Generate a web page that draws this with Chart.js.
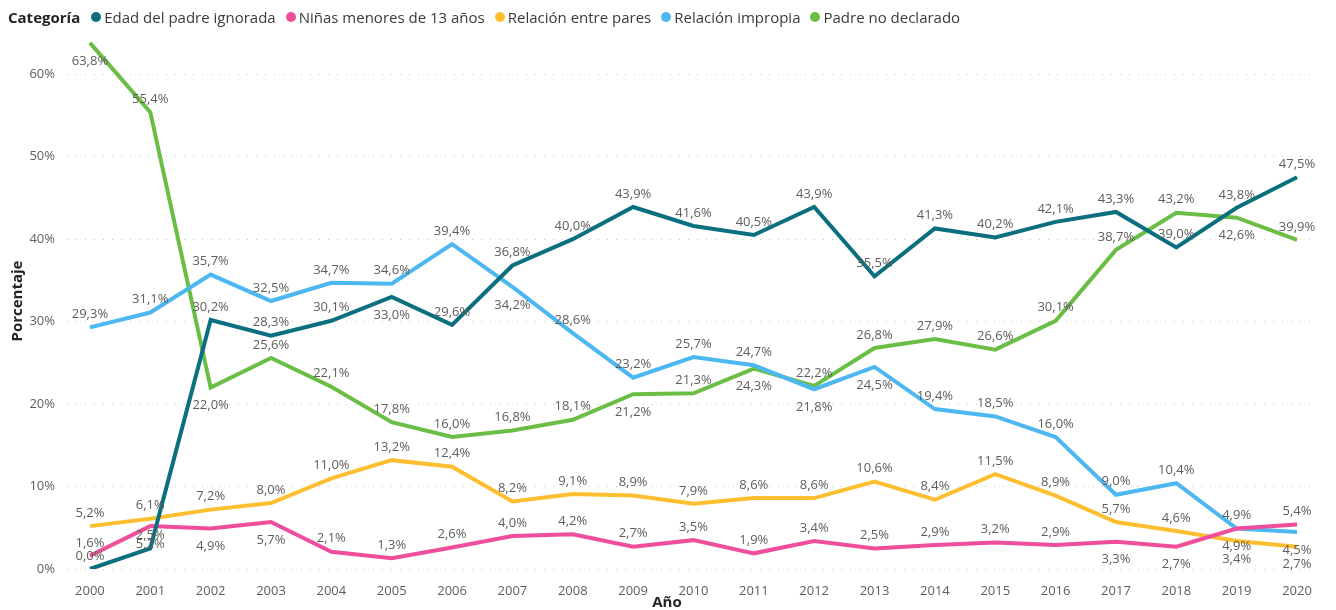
<!DOCTYPE html>
<html>
<head>
<meta charset="utf-8">
<script src="https://cdn.jsdelivr.net/npm/chart.js@4.4.1/dist/chart.umd.min.js"></script>
<style>
  body { margin: 0; background: #fff; font-family: "Segoe UI", "Open Sans", sans-serif; }
  #wrap { position: relative; width: 1336px; height: 610px; }
  #legend { position: absolute; left: 8px; top: 5px; height: 24px; display: flex; align-items: center;
            font-size: 15px; color: #3b3a39; white-space: nowrap; }
  #legend b { color: #252423; margin-right: 11px; }
  #legend .dot { width: 10px; height: 10px; border-radius: 50%; margin-right: 3px; }
  #legend .txt { margin-right: 10px; }
  #xtitle { position: absolute; left: 617px; width: 100px; top: 591px; text-align: center;
            font-size: 15px; font-weight: bold; color: #252423; line-height: 20px; }
</style>
</head>
<body>
<div id="wrap">
  <canvas id="linechart" width="1336" height="610"></canvas>
  <div id="legend"><b>Categoría</b></div>
  <div id="xtitle">Año</div>
</div>
<script>
const years = [2000, 2001, 2002, 2003, 2004, 2005, 2006, 2007, 2008, 2009, 2010,
               2011, 2012, 2013, 2014, 2015, 2016, 2017, 2018, 2019, 2020];
const yTicks = [0, 10, 20, 30, 40, 50, 60];

const seriesNames = ['Edad del padre ignorada', 'Niñas menores de 13 años', 'Relación entre pares',
                     'Relación impropia', 'Padre no declarado'];
const edadIgnorada = [0.0, 2.5, 30.2, 28.3, 30.1, 33.0, 29.6, 36.8, 40.0, 43.9, 41.6, 40.5, 43.9, 35.5, 41.3, 40.2, 42.1, 43.3, 39.0, 43.8, 47.5];
const ninasMenores = [1.6, 5.2, 4.9, 5.7, 2.1, 1.3, 2.6, 4.0, 4.2, 2.7, 3.5, 1.9, 3.4, 2.5, 2.9, 3.2, 2.9, 3.3, 2.7, 4.9, 5.4];
const entrePares = [5.2, 6.1, 7.2, 8.0, 11.0, 13.2, 12.4, 8.2, 9.1, 8.9, 7.9, 8.6, 8.6, 10.6, 8.4, 11.5, 8.9, 5.7, 4.6, 3.4, 2.7];
const impropia = [29.3, 31.1, 35.7, 32.5, 34.7, 34.6, 39.4, 34.2, 28.6, 23.2, 25.7, 24.7, 21.8, 24.5, 19.4, 18.5, 16.0, 9.0, 10.4, 4.9, 4.5];
const noDeclarado = [63.8, 55.4, 22.0, 25.6, 22.1, 17.8, 16.0, 16.8, 18.1, 21.2, 21.3, 24.3, 22.2, 26.8, 27.9, 26.6, 30.1, 38.7, 43.2, 42.6, 39.9];

const colors = ['#0B6F80', '#EE4E9B', '#FDBF2F', '#4CB7F1', '#6BBE45'];
const allValues = [edadIgnorada, ninasMenores, entrePares, impropia, noDeclarado];

// legend
const legend = document.getElementById('legend');
seriesNames.forEach(function(name, i) {
    const dot = document.createElement('span');
    dot.className = 'dot';
    dot.style.background = colors[i];
    const txt = document.createElement('span');
    txt.className = 'txt';
    txt.textContent = name;
    legend.appendChild(dot);
    legend.appendChild(txt);
});

function fmt(v) {
    return v.toFixed(1).replace('.', ',') + '%';
}

// y of a dataset's line at pixel x (straight segments)
function lineYAt(meta, x) {
    const pts = meta.data;
    if (x <= pts[0].x) return pts[0].y;
    for (let k = 1; k < pts.length; k++) {
        if (x <= pts[k].x) {
            const a = pts[k - 1], b = pts[k];
            return a.y + (b.y - a.y) * (x - a.x) / (b.x - a.x);
        }
    }
    return pts[pts.length - 1].y;
}

// does the line pass through the box?
function lineHitsBox(meta, box) {
    const ys = [lineYAt(meta, box.l), lineYAt(meta, box.r)];
    meta.data.forEach(function(pt) {
        if (pt.x > box.l && pt.x < box.r) ys.push(pt.y);
    });
    const lo = Math.min.apply(null, ys), hi = Math.max.apply(null, ys);
    return hi > box.t && lo < box.b;
}

// value labels, above the point unless it collides, then below
const valueLabels = {
    id: 'valueLabels',
    afterDatasetsDraw(chart) {
        const ctx = chart.ctx;
        const area = chart.chartArea;
        const metas = chart.data.datasets.map((ds, d) => chart.getDatasetMeta(d));
        ctx.save();
        ctx.font = '13px "Segoe UI", "Open Sans", sans-serif';
        ctx.fillStyle = '#605E5C';
        ctx.textAlign = 'center';
        ctx.textBaseline = 'middle';
        const h = 14;
        for (let i = 0; i < years.length; i++) {
            const pts = chart.data.datasets.map(function(ds, d) {
                const el = metas[d].data[i];
                return { x: el.x, y: el.y, v: ds.data[i].y, d: d };
            }).sort((a, b) => a.y - b.y);
            const placed = [];
            pts.forEach(function(p) {
                const text = fmt(p.v);
                const w = ctx.measureText(text).width;
                const cands = [p.y - 13, p.y + 18];
                let best = null, bestScore = Infinity;
                cands.forEach(function(cy, k) {
                    const box = { l: p.x - w / 2, r: p.x + w / 2, t: cy - h / 2, b: cy + h / 2 };
                    let score = k * 2.5;
                    if (box.t < area.top - 4) score += 100;
                    if (box.b > area.bottom + 3) score += 100;
                    placed.forEach(function(o) {
                        const ox = Math.min(box.r, o.r) - Math.max(box.l, o.l);
                        const oy = Math.min(box.b, o.b) - Math.max(box.t, o.t);
                        if (ox > 0 && oy > 0) score += oy * 2;
                    });
                    metas.forEach(function(m, d) {
                        if (d !== p.d && lineHitsBox(m, box)) score += 3;
                    });
                    if (score < bestScore) { bestScore = score; best = { cy: cy, box: box }; }
                });
                placed.push(best.box);
                ctx.fillText(text, p.x, best.cy);
            });
        }
        ctx.restore();
    }
};

new Chart(document.getElementById('linechart').getContext('2d'), {
    type: 'line',
    data: {
        datasets: seriesNames.map(function(name, i) {
            return {
                label: name,
                data: years.map((yr, k) => ({ x: yr, y: allValues[i][k] })),
                borderColor: colors[i],
                backgroundColor: colors[i],
                borderWidth: 4,
                pointRadius: 0,
                tension: 0
            };
        })
    },
    options: {
        responsive: false,
        animation: false,
        devicePixelRatio: 1,
        layout: { padding: { top: 33, right: 26, left: 0, bottom: 0 } },
        plugins: { legend: { display: false }, tooltip: { enabled: false } },
        scales: {
            x: {
                type: 'linear',
                min: 1999.62,
                max: 2020.215,
                afterBuildTicks: function(scale) { scale.ticks = years.map(v => ({ value: v })); },
                afterFit: function(scale) { scale.height = 41; },
                grid: { display: false },
                border: { display: false },
                ticks: {
                    color: '#605E5C',
                    font: { size: 13, family: '"Segoe UI", "Open Sans", sans-serif' },
                    padding: 6,
                    maxRotation: 0,
                    autoSkip: false,
                    callback: v => String(v)
                }
            },
            y: {
                min: 0,
                max: 65,
                afterBuildTicks: function(scale) { scale.ticks = yTicks.map(v => ({ value: v })); },
                afterFit: function(scale) { scale.width = 67; },
                grid: { color: '#C8C6C4', lineWidth: 1, drawTicks: false },
                border: { display: false, dash: [1, 8] },
                ticks: {
                    color: '#605E5C',
                    font: { size: 13, family: '"Segoe UI", "Open Sans", sans-serif' },
                    padding: 12,
                    callback: v => v + '%'
                },
                title: {
                    display: true,
                    text: 'Porcentaje',
                    color: '#252423',
                    font: { size: 15, weight: 'bold', family: '"Segoe UI", "Open Sans", sans-serif' },
                    padding: { top: 9, bottom: 0 }
                }
            }
        }
    },
    plugins: [valueLabels]
});
</script>
</body>
</html>
